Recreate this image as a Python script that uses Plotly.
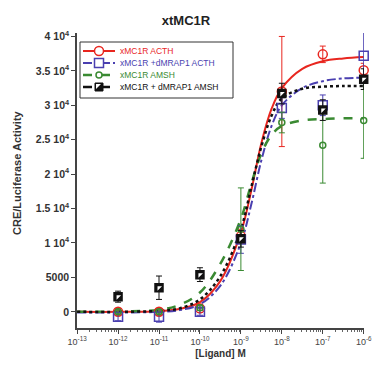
import plotly.graph_objects as go

# ---- data ----
conc = [1e-12, 1e-11, 1e-10, 1e-9, 1e-8, 1e-7, 1e-6]

red_y = [0, 0, 500, 11000, 32000, 37400, 35100]
red_e = [500, 500, 600, 1000, 8000, 1200, 1000]
blue_y = [-700, -700, 0, 10500, 29600, 30000, 37200]
blue_e = [600, 800, 500, 2000, 1500, 1500, 3500]
green_y = [0, 0, 600, 12000, 27500, 24200, 27800]
green_e = [300, 300, 400, 6000, 1500, 5500, 5500]
black_y = [2200, 3500, 5400, 10600, 31700, 29300, 33800]
black_e = [800, 1700, 1000, 1200, 1500, 1500, 1500]

curve_x = [1e-13, 1e-12, 1e-11, 10**-10.5, 1e-10, 10**-9.5, 1e-9, 10**-8.75,
           10**-8.5, 10**-8.25, 1e-8, 10**-7.5, 1e-7, 10**-6.5, 1e-6]
red_fit = [0, 0, 100, 400, 1400, 4500, 11500, 17500, 24500, 29500, 32500, 35300, 36400, 36800, 37000]
blue_fit = [-100, -100, 0, 250, 1100, 3800, 10000, 15500, 22000, 27000, 30000, 32500, 33500, 33900, 34000]
green_fit = [0, 50, 300, 1000, 2800, 7000, 13500, 18500, 23000, 25700, 27000, 27800, 28000, 28100, 28100]
black_fit = [0, 0, 150, 500, 1800, 5200, 12000, 18000, 24000, 28500, 31000, 32400, 32700, 32800, 32800]

labels = ["xMC1R ACTH", "xMC1R +dMRAP1 ACTH", "xMC1R AMSH", "xMC1R + dMRAP1 AMSH"]

ytick_vals = [0, 5000, 10000, 15000, 20000, 25000, 30000, 35000, 40000]
ytick_text = ["0", "5000", "1 10<sup>4</sup>", "1.5 10<sup>4</sup>", "2 10<sup>4</sup>",
              "2.5 10<sup>4</sup>", "3 10<sup>4</sup>", "3.5 10<sup>4</sup>", "4 10<sup>4</sup>"]
xtick_vals = [1e-13, 1e-12, 1e-11, 1e-10, 1e-9, 1e-8, 1e-7, 1e-6]
xtick_text = ["10<sup>-13</sup>", "10<sup>-12</sup>", "10<sup>-11</sup>", "10<sup>-10</sup>",
              "10<sup>-9</sup>", "10<sup>-8</sup>", "10<sup>-7</sup>", "10<sup>-6</sup>"]

RED, BLUE, GREEN, BLACK = "#e8261f", "#4a3fb0", "#3a8a32", "#111111"

series = [
    (labels[0], red_y, red_e, red_fit, RED, "solid", 2, "circle-open", 9),
    (labels[1], blue_y, blue_e, blue_fit, BLUE, "dashdot", 2, "square-open", 9),
    (labels[2], green_y, green_e, green_fit, GREEN, "dash", 2.5, "circle-open", 6),
    (labels[3], black_y, black_e, black_fit, BLACK, "dot", 2.5, "square", 8),
]

# ---- figure geometry ----
W, H = 375, 366
ML, MR, MT, MB = 77, 11, 33, 38
PW, PH = W - ML - MR, H - MT - MB


def px(xw):  # pixel x -> paper
    return (xw - ML) / PW


def py(yw):  # pixel y -> paper
    return 1 - (yw - MT) / PH


fig = go.Figure()
for name, y, e, fit, col, dash, w, sym, sz in series:
    fig.add_trace(go.Scatter(x=curve_x, y=fit, mode="lines", line=dict(color=col, width=w, dash=dash, shape="spline"),
                             showlegend=False, hoverinfo="skip", cliponaxis=False))
for name, y, e, fit, col, dash, w, sym, sz in series:
    fig.add_trace(go.Scatter(x=conc, y=y, mode="markers", cliponaxis=False, name=name,
                             marker=dict(symbol=sym, size=sz, color=col, line=dict(color=col, width=1.5)),
                             error_y=dict(type="data", array=e, color=col, thickness=1, width=3),
                             showlegend=False))
# white corner on black squares (half-filled look)
fig.add_trace(go.Scatter(x=conc, y=black_y, mode="markers", cliponaxis=False,
                         marker=dict(symbol="triangle-nw", size=5, color="white", line=dict(width=0)),
                         showlegend=False, hoverinfo="skip"))

# ---- hand-drawn legend box (compact, coloured text like the original) ----
shapes = [dict(type="rect", xref="paper", yref="paper", x0=px(80), x1=px(233), y0=py(98), y1=py(42),
               line=dict(color="#333333", width=1), fillcolor="white", layer="above")]
annotations = []
rows = [51, 63, 75, 87]
for (name, y, e, fit, col, dash, w, sym, sz), ry in zip(series, rows):
    shapes.append(dict(type="line", xref="paper", yref="paper", x0=px(83), x1=px(115), y0=py(ry), y1=py(ry),
                       line=dict(color=col, width=w, dash=dash if dash != "dot" else "dash"), layer="above"))
    r = sz / 2
    if sym == "circle-open":
        shapes.append(dict(type="circle", xref="paper", yref="paper", x0=px(99 - r), x1=px(99 + r),
                           y0=py(ry + r), y1=py(ry - r), line=dict(color=col, width=1.5),
                           fillcolor="white", layer="above"))
    elif sym == "square-open":
        shapes.append(dict(type="rect", xref="paper", yref="paper", x0=px(99 - r), x1=px(99 + r),
                           y0=py(ry + r), y1=py(ry - r), line=dict(color=col, width=1.5),
                           fillcolor="white", layer="above"))
    else:
        shapes.append(dict(type="rect", xref="paper", yref="paper", x0=px(99 - r), x1=px(99 + r),
                           y0=py(ry + r), y1=py(ry - r), line=dict(color=col, width=1),
                           fillcolor=col, layer="above"))
        shapes.append(dict(type="path", xref="paper", yref="paper",
                           path=f"M {px(99 - r + 1)},{py(ry - r + 1)} L {px(99 + r - 2)},{py(ry - r + 1)} "
                                f"L {px(99 - r + 1)},{py(ry + r - 2)} Z",
                           line=dict(width=0), fillcolor="white", layer="above"))
    annotations.append(dict(xref="paper", yref="paper", x=px(118), y=py(ry), xanchor="left", yanchor="middle",
                            text=name, showarrow=False, font=dict(size=8.5, color=col)))

# y-axis title placed as in the original (slightly above plot centre)
annotations.append(dict(xref="paper", yref="paper", x=px(17), y=py(173), xanchor="center", yanchor="middle",
                        text="<b>CRE/Luciferase Activity</b>", textangle=-90, showarrow=False,
                        font=dict(size=11, color="#333333")))

axis_font = dict(family="Liberation Sans, Arial, sans-serif", size=9, color="#444444")
fig.update_layout(
    width=W, height=H,
    margin=dict(l=ML, r=MR, t=MT, b=MB, autoexpand=False),
    paper_bgcolor="white", plot_bgcolor="white",
    font=dict(family="Liberation Sans, Arial, sans-serif", color="#333333"),
    title=dict(text="<b>xtMC1R</b>", x=186 / W, xanchor="center", y=1 - 20 / H,
               yanchor="middle", font=dict(size=13, color="#222222")),
    showlegend=False,
    shapes=shapes,
    annotations=annotations,
    xaxis=dict(type="log", range=[-13.003, -5.993], tickvals=xtick_vals, ticktext=xtick_text,
               showgrid=False, zeroline=False, showline=True, linecolor="#444444", linewidth=1.5,
               ticks="outside", ticklen=4, tickcolor="#444444", tickfont=axis_font, automargin=False,
               minor=dict(ticks="outside", ticklen=2, tickcolor="#666666", dtick="D1", showgrid=False),
               title=dict(text="<b>[Ligand] M</b>", font=dict(size=10, color="#333333"), standoff=4)),
    yaxis=dict(range=[-2350, 40500], tickvals=ytick_vals, ticktext=ytick_text, automargin=False,
               showgrid=False, zeroline=False, showline=True, linecolor="#444444", linewidth=1.5,
               ticks="outside", ticklen=4, tickcolor="#444444",
               tickfont=dict(family="Liberation Sans, Arial, sans-serif", size=10.5, color="#333333", weight="bold")),
)
fig.write_html("out.html", config={"displayModeBar": False},
               post_script="document.body.style.margin='0px';document.body.style.overflow='hidden';")
